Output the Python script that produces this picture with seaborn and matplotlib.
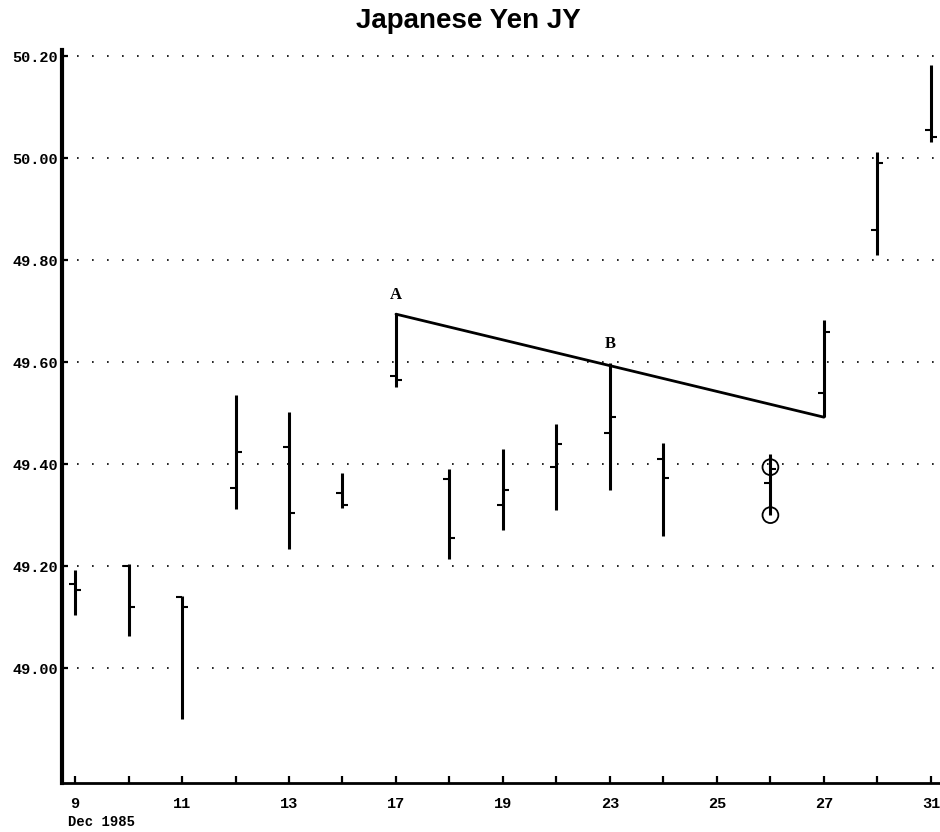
import matplotlib
matplotlib.use("Agg")
import numpy as np
import pandas as pd
import matplotlib.pyplot as plt
import seaborn as sns

# trading sessions in Dec 1985 (25 = holiday, no bar)
sessions = [9, 10, 11, 12, 13, 16, 17, 18, 19, 20, 23, 24, 25, 26, 27, 30, 31]
bar_days = [9, 10, 11, 12, 13, 16, 17, 18, 19, 20, 23, 24, 26, 27, 30, 31]
highs = [49.193, 49.204, 49.142, 49.535, 49.502, 49.382, 49.694, 49.390,
         49.429, 49.478, 49.598, 49.441, 49.420, 49.682, 50.012, 50.182]
lows = [49.104, 49.063, 48.900, 49.312, 49.233, 49.313, 49.551, 49.214,
        49.270, 49.310, 49.349, 49.260, 49.300, 49.492, 49.810, 50.031]
opens = [49.165, 49.200, 49.140, 49.353, 49.433, 49.343, 49.573, 49.370,
         49.320, 49.394, 49.461, 49.410, 49.363, 49.539, 49.859, 50.055]
closes = [49.153, 49.120, 49.120, 49.424, 49.304, 49.320, 49.565, 49.255,
          49.350, 49.440, 49.492, 49.372, 49.390, 49.659, 49.990, 50.041]

# trend line A -> B extended to Dec 27
trend_days = [17, 27]
trend_vals = [49.694, 49.492]
point_labels = ["A", "B"]
point_days = [17, 23]
point_vals = [49.694, 49.598]

# circled prices on Dec 26
circle_days = [26, 26]
circle_vals = [49.394, 49.300]

yticks = [49.00, 49.20, 49.40, 49.60, 49.80, 50.00, 50.20]

sns.set_style("white", {"xtick.bottom": True, "ytick.left": True,
                        "axes.edgecolor": "black", "text.color": "black",
                        "xtick.color": "black", "ytick.color": "black"})
plt.rcParams["font.family"] = ["Liberation Mono", "DejaVu Sans"]

df = pd.DataFrame({"day": bar_days, "high": highs, "low": lows,
                   "open": opens, "close": closes})
df["x"] = [sessions.index(d) for d in df["day"]]

fig = plt.figure(figsize=(9.4, 8.32), dpi=100)
ax = fig.add_axes([0.066, 0.059, 0.934, 0.881])

# horizontal dotted grid
for y in yticks:
    ax.axhline(y, color="black", lw=1.2, ls=(0, (1, 8)), zorder=0)

ax.vlines(df["x"], df["low"], df["high"], color="black", lw=2.2, zorder=3)
ax.plot(df["x"], df["open"], ls="none", marker=0, ms=4, mew=1.5, color="black")
ax.plot(df["x"], df["close"], ls="none", marker=1, ms=4, mew=1.5, color="black")

trend = pd.DataFrame({"x": [sessions.index(d) for d in trend_days], "y": trend_vals})
sns.lineplot(data=trend, x="x", y="y", color="black", lw=2, ax=ax)

circ = pd.DataFrame({"x": [sessions.index(d) for d in circle_days], "y": circle_vals})
sns.scatterplot(data=circ, x="x", y="y", s=130, facecolor="none",
                edgecolor="black", linewidth=1.3, ax=ax, zorder=4)

for lab, d, v in zip(point_labels, point_days, point_vals):
    ax.annotate(lab, (sessions.index(d), v), xytext=(0, 8), textcoords="offset points",
                ha="center", va="bottom", fontsize=12, fontweight="bold",
                family="Liberation Serif", color="black")

ax.set_xlim(-0.243, 16.17)
ax.set_ylim(48.775, 50.212)
ax.set_xticks(range(len(sessions)))
ax.set_xticklabels([str(d) if i % 2 == 0 else "" for i, d in enumerate(sessions)])
ax.set_yticks(yticks)
ax.set_yticklabels([f"{v:.2f}" for v in yticks])
ax.tick_params(axis="x", direction="in", length=5, width=1.6, pad=10,
               labelsize=11, bottom=True)
ax.tick_params(axis="y", direction="in", length=4, width=1.6, pad=3,
               labelsize=11, left=True)
for lab in ax.get_xticklabels() + ax.get_yticklabels():
    lab.set_fontweight("bold")
ax.set_xlabel("")
ax.set_ylabel("")

for s in ["top", "right"]:
    ax.spines[s].set_visible(False)
ax.spines["left"].set_linewidth(3)
ax.spines["bottom"].set_linewidth(2)

fig.text(0.072, 0.004, "Dec 1985", fontsize=10, fontweight="bold",
         ha="left", va="bottom", color="black")
fig.suptitle("Japanese Yen JY", x=0.498, y=0.99, fontsize=20, fontweight="bold",
             family="Liberation Sans", color="black")

fig.savefig("out.png", dpi=100)
